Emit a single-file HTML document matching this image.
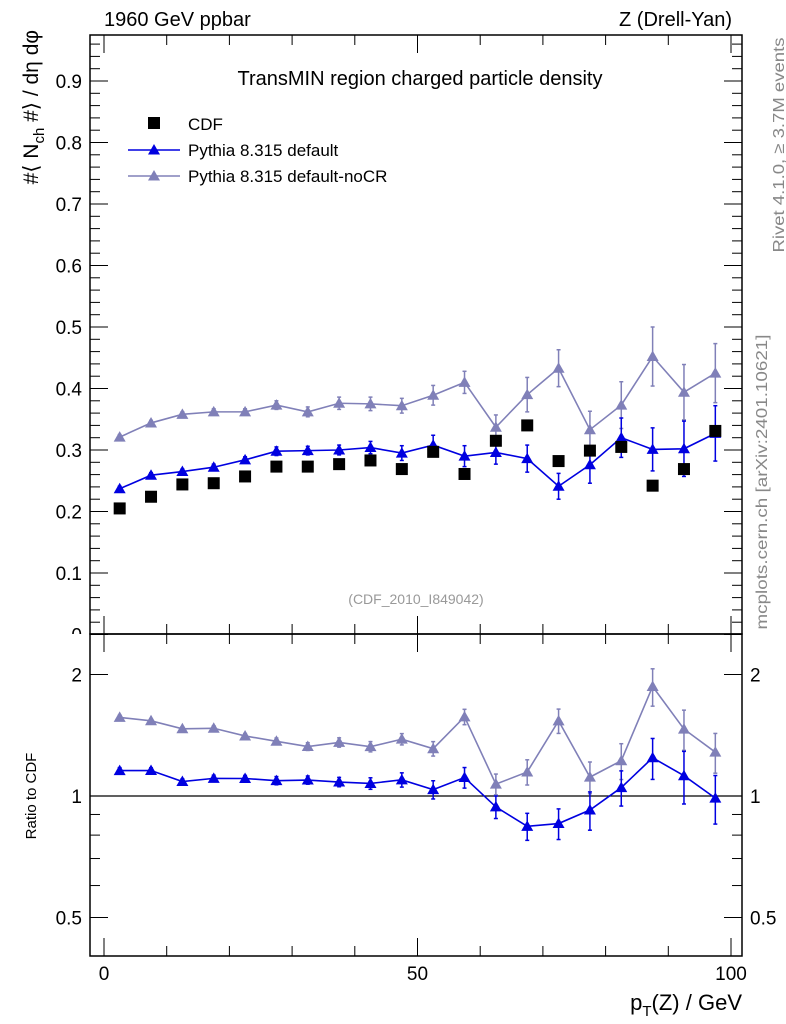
<!DOCTYPE html>
<html><head><meta charset="utf-8"><style>
body{margin:0;background:#fff;}
svg{display:block;font-family:"Liberation Sans",sans-serif;}
</style></head><body>
<svg id="c" width="786" height="1024" viewBox="0 0 786 1024" xmlns="http://www.w3.org/2000/svg"></svg>
<script>
const xCenters=[2.5,7.5,12.5,17.5,22.5,27.5,32.5,37.5,42.5,47.5,52.5,57.5,62.5,67.5,72.5,77.5,82.5,87.5,92.5,97.5];
const cdfVals=[0.205,0.224,0.244,0.246,0.257,0.273,0.273,0.277,0.283,0.269,0.297,0.261,0.315,0.340,0.282,0.299,0.305,0.242,0.269,0.331];
const defVals=[0.237,0.259,0.265,0.272,0.284,0.298,0.299,0.300,0.304,0.295,0.308,0.290,0.296,0.286,0.241,0.276,0.320,0.301,0.302,0.327];
const defErrs=[0.004,0.004,0.004,0.005,0.005,0.007,0.007,0.008,0.010,0.012,0.016,0.017,0.019,0.022,0.021,0.030,0.032,0.035,0.045,0.045];
const nocrVals=[0.321,0.344,0.358,0.362,0.362,0.373,0.362,0.376,0.375,0.372,0.389,0.410,0.337,0.390,0.433,0.333,0.373,0.452,0.394,0.425];
const nocrErrs=[0.004,0.004,0.004,0.005,0.005,0.007,0.008,0.010,0.011,0.012,0.016,0.018,0.020,0.028,0.030,0.030,0.038,0.048,0.045,0.048];
const yTicks=[0,0.1,0.2,0.3,0.4,0.5,0.6,0.7,0.8,0.9];
const yTickLabels=["0","0.1","0.2","0.3","0.4","0.5","0.6","0.7","0.8","0.9"];
const xTicks=[0,50,100];
const rTicks=[0.5,1,2];
const rTickLabels=["0.5","1","2"];

const NS="http://www.w3.org/2000/svg";
const svg=document.getElementById('c');
const L=90,R=742,T=35,MB=634,RB=956;
const X=v=>104+v*6.27;
const Y=v=>634.5-v*615;
const RY=r=>796-121.5*Math.log2(r);
function el(tag,attrs,parent){const e=document.createElementNS(NS,tag);for(const k in attrs)e.setAttribute(k,attrs[k]);(parent||svg).appendChild(e);return e;}
function txt(s,attrs,parent){const e=el('text',attrs,parent);e.textContent=s;return e;}

yTicks.forEach((v,i)=>{const t=txt(yTickLabels[i],{x:L-8,y:Y(v)+7,'text-anchor':'end','font-size':19});
});
let cover=el('rect',{x:70,y:MB,width:20,height:12,fill:'#fff'});


let f1=el('rect',{x:L,y:T,width:R-L,height:MB-T,fill:'none',stroke:'#000','stroke-width':1.5});

let f2=el('rect',{x:L,y:MB,width:R-L,height:RB-MB,fill:'none',stroke:'#000','stroke-width':1.5});


const gy=el('g',{stroke:'#000','stroke-width':1});

for(let i=0;i<=48;i++){const v=i*0.02;const y=Y(v);if(y<T)break;const major=i%5===0;const len=major?18:10;
el('line',{x1:L,y1:y,x2:L+len,y2:y},gy);el('line',{x1:R,y1:y,x2:R-len,y2:y},gy);}
const gx=el('g',{stroke:'#000','stroke-width':1});

for(let v=0;v<=100;v+=10){const x=X(v);const major=v%50===0;const len=major?18:10;
el('line',{x1:x,y1:MB,x2:x,y2:MB-len},gx);el('line',{x1:x,y1:T,x2:x,y2:T+len},gx);
el('line',{x1:x,y1:RB,x2:x,y2:RB-len},gx);el('line',{x1:x,y1:MB,x2:x,y2:MB+len},gx);}
xTicks.forEach(v=>{const t=txt(String(v),{x:X(v),y:980,'text-anchor':'middle','font-size':19});
});
const minorR=[0.4,0.6,0.7,0.8,0.9,3];
const gr=el('g',{stroke:'#000','stroke-width':1});

rTicks.concat(minorR).forEach(r=>{const y=RY(r);if(y<MB||y>RB)return;const len=rTicks.includes(r)?18:10;
el('line',{x1:L,y1:y,x2:L+len,y2:y},gr);el('line',{x1:R,y1:y,x2:R-len,y2:y},gr);});
rTicks.forEach((r,i)=>{let t=txt(rTickLabels[i],{x:L-8,y:RY(r)+7,'text-anchor':'end','font-size':19});

t=txt(rTickLabels[i],{x:R+8,y:RY(r)+7,'text-anchor':'start','font-size':19});
});
let one=el('line',{x1:L,y1:RY(1),x2:R,y2:RY(1),stroke:'#000','stroke-width':1.2});


function tri(x,y,col,s,parent){return el('polygon',{points:`${x},${y-s} ${x-s},${y+s*0.75} ${x+s},${y+s*0.75}`,fill:col},parent);}
function series(vals,errs,col,name,yf,parent){
 const g=el('g',{},parent);
 el('polyline',{points:xCenters.map((x,i)=>X(x)+','+yf(vals[i],i,0)).join(' '),fill:'none',stroke:col,'stroke-width':1.6},g);
 xCenters.forEach((x,i)=>{const cx=X(x);const y1=yf(vals[i],i,1),y2=yf(vals[i],i,-1);
  el('line',{x1:cx,y1:y1,x2:cx,y2:y2,stroke:col,'stroke-width':1.5},g);
  el('line',{x1:cx-2,y1:y1,x2:cx+2,y2:y1,stroke:col,'stroke-width':1.5},g);
  el('line',{x1:cx-2,y1:y2,x2:cx+2,y2:y2,stroke:col,'stroke-width':1.5},g);
  const m=tri(cx,yf(vals[i],i,0),col,6,g);});
}
const C1='#0000e0',C2='#8080b8';
series(nocrVals,nocrErrs,C2,'pythia-nocr-series',(v,i,s)=>Y(v+s*nocrErrs[i]));
series(defVals,defErrs,C1,'pythia-default-series',(v,i,s)=>Y(v+s*defErrs[i]));
const gc=el('g',{});
xCenters.forEach((x,i)=>{const r=el('rect',{x:X(x)-6,y:Y(cdfVals[i])-6,width:12,height:12,fill:'#000'},gc);
});
series(nocrVals,nocrErrs,C2,'ratio-nocr-series',(v,i,s)=>RY((v+s*nocrErrs[i])/cdfVals[i]));
series(defVals,defErrs,C1,'ratio-default-series',(v,i,s)=>RY((v+s*defErrs[i])/cdfVals[i]));

const lg=el('g',{});
el('rect',{x:148,y:117,width:12,height:12,fill:'#000'},lg);
txt('CDF',{x:188,y:130,'font-size':17},lg);
el('line',{x1:128,y1:150,x2:180,y2:150,stroke:C1,'stroke-width':1.6},lg);tri(154,150,C1,6,lg);
txt('Pythia 8.315 default',{x:188,y:156,'font-size':17},lg);
el('line',{x1:128,y1:176,x2:180,y2:176,stroke:C2,'stroke-width':1.6},lg);tri(154,176,C2,6,lg);
txt('Pythia 8.315 default-noCR',{x:188,y:182,'font-size':17},lg);

function label(s,attrs,name){const t=txt(s,attrs);return t;}
label('1960 GeV ppbar',{x:104,y:26,'font-size':20},'beam-label');
label('Z (Drell-Yan)',{x:732,y:26,'font-size':20,'text-anchor':'end'},'process-label');
label('TransMIN region charged particle density',{x:420,y:85,'font-size':20,'text-anchor':'middle'},'plot-title');
label('(CDF_2010_I849042)',{x:416,y:604,'font-size':14,'text-anchor':'middle',fill:'#999'},'analysis-id');
label('Rivet 4.1.0, ≥ 3.7M events',{x:0,y:0,'font-size':16,fill:'#888','text-anchor':'middle',textLength:215,lengthAdjust:'spacingAndGlyphs',transform:'translate(784,145) rotate(-90)'},'rivet-label');
label('mcplots.cern.ch [arXiv:2401.10621]',{x:0,y:0,'font-size':16,fill:'#888','text-anchor':'middle',textLength:295,lengthAdjust:'spacingAndGlyphs',transform:'translate(767,482) rotate(-90)'},'mcplots-label');
const yl=el('text',{x:0,y:0,'font-size':21,'text-anchor':'end',transform:'translate(38,30) rotate(-90)'});

yl.innerHTML='#⟨ N<tspan font-size="15" dy="6">ch</tspan><tspan dy="-6"> #⟩ / dη dφ</tspan>';
label('Ratio to CDF',{x:0,y:0,'font-size':15,'text-anchor':'middle',transform:'translate(36,796) rotate(-90)'},'ratio-axis-title');
const xl=el('text',{x:742,y:1010,'font-size':22,'text-anchor':'end'});

xl.innerHTML='p<tspan font-size="15" dy="6">T</tspan><tspan dy="-6">(Z) / GeV</tspan>';
</script>
</body></html>
